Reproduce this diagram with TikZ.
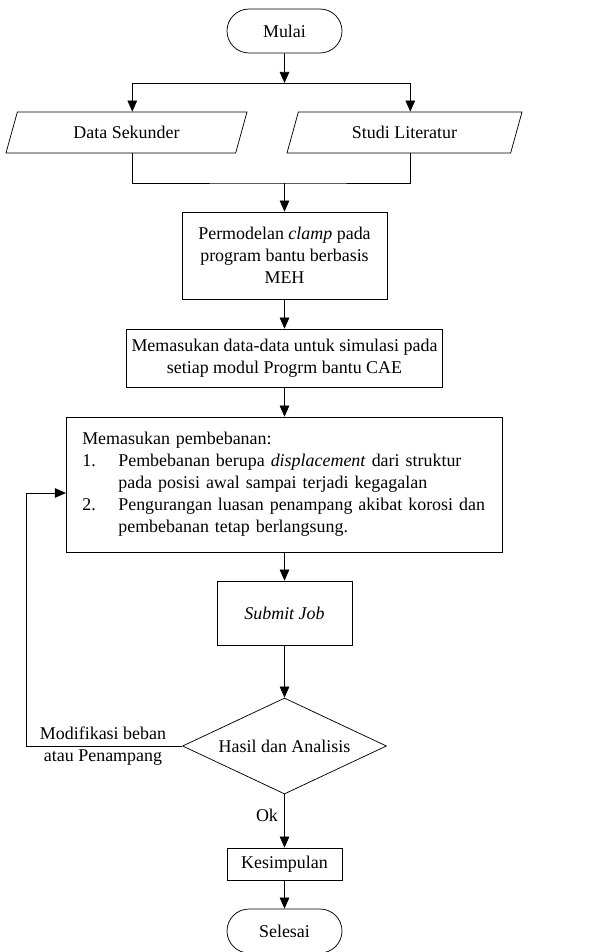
\documentclass[tikz,border=0pt]{standalone}
\usepackage{fontspec}
\setmainfont{Liberation Serif}
\usetikzlibrary{shapes.geometric,shapes.misc,arrows.meta}

\tikzset{
  terminal/.style={draw,rounded rectangle,minimum width=78.2pt,minimum height=29.9pt,inner sep=0pt},
  datain/.style={draw,trapezium,trapezium left angle=48,trapezium right angle=132,
    trapezium stretches body,minimum width=#1,minimum height=27.9pt,inner sep=0pt},
  procbox/.style={draw,rectangle,align=center,inner sep=0pt},
  decision/.style={draw,diamond,aspect=2.125,minimum width=138.7pt,minimum height=65.3pt,inner sep=0pt},
  flow/.style={-{Triangle[length=7.5pt,width=6.5pt]}},
}

\begin{document}
\begin{tikzpicture}[x=0.68pt,y=-0.68pt,line width=0.5pt,
    font=\fontsize{12.2}{15}\selectfont]
  \useasboundingbox (0,0) rectangle (598,952);

  % Start
  \node[terminal] (mulai) at (284.5,31) {Mulai};

  % Input data
  \coordinate (split) at (284.5,83);
  \node[datain=163.9pt] (sekunder) at (126.5,132.5) {Data Sekunder};
  \node[datain=159.8pt] (literatur) at (404.5,132.5) {Studi Literatur};
  \coordinate (merge) at (284.5,183);

  % Modelling and input
  \node[procbox,minimum width=139.4pt,minimum height=59.2pt] (model) at (284.5,255.5)
    {Permodelan \textit{clamp} pada\\program bantu berbasis\\MEH};
  \node[procbox,minimum width=214.9pt,minimum height=39.4pt] (input) at (284.5,358)
    {Memasukan data-data untuk simulasi pada\\setiap modul Progrm bantu CAE};
  \node[procbox,align=left,text width=275pt,inner xsep=10.9pt,minimum height=91.8pt] (beban) at (284.5,484.5)
    {Memasukan pembebanan:\\
     \makebox[24.5pt][l]{1.}Pembebanan berupa \textit{displacement} dari struktur\\
     \hspace*{24.5pt}pada posisi awal sampai terjadi kegagalan\\
     \makebox[24.5pt][l]{2.}Pengurangan luasan penampang akibat korosi dan\\
     \hspace*{24.5pt}pembebanan tetap berlangsung.};
  \node[procbox,minimum width=91.8pt,minimum height=43.5pt] (submit) at (284.5,613) {\textit{Submit Job}};

  % Check
  \node[decision] (hasil) at (284.5,746) {Hasil dan Analisis};
  \node[align=center] (modif) at (103,746) {Modifikasi beban\\atau Penampang};
  \coordinate (back) at (26,493);

  % End
  \node[procbox,minimum width=78.2pt,minimum height=21.8pt] (simpul) at (284.5,864) {Kesimpulan};
  \node[terminal] (selesai) at (284.5,931) {Selesai};
  \node (ok) at (267,815) {Ok};

  % Connectors
  \draw[flow] (mulai) -- (split);
  \draw[flow] (split) -| (sekunder.top side);
  \draw[flow] (split) -| (literatur.top side);
  \draw (sekunder.top side |- sekunder.bottom side) |- (merge)
        -| (literatur.top side |- literatur.bottom side);
  \draw[flow] (merge) -- (model);
  \draw[flow] (model) -- (input);
  \draw[flow] (input) -- (beban);
  \draw[flow] (beban) -- (submit);
  \draw[flow] (submit) -- (hasil);
  \draw[flow] (hasil) -- (simpul);
  \draw[flow] (simpul) -- (selesai);
  \draw[flow] (hasil.west) -| (back) -- (back -| beban.west);
\end{tikzpicture}
\end{document}
